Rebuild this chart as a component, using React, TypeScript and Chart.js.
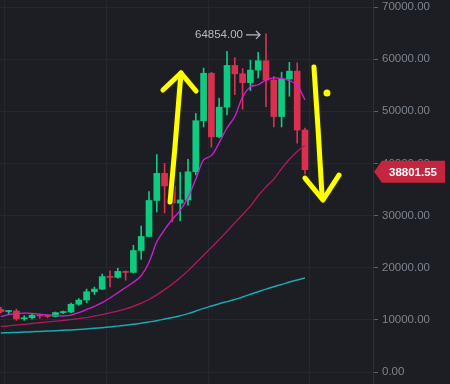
import React, { useEffect, useRef } from "react";
import { Chart, registerables } from "chart.js";

Chart.register(...registerables);

const weeks = [
  "2020-08-17", "2020-08-24", "2020-08-31", "2020-09-07", "2020-09-14", "2020-09-21", "2020-09-28",
  "2020-10-05", "2020-10-12", "2020-10-19", "2020-10-26", "2020-11-02", "2020-11-09", "2020-11-16",
  "2020-11-23", "2020-11-30", "2020-12-07", "2020-12-14", "2020-12-21", "2020-12-28", "2021-01-04",
  "2021-01-11", "2021-01-18", "2021-01-25", "2021-02-01", "2021-02-08", "2021-02-15", "2021-02-22",
  "2021-03-01", "2021-03-08", "2021-03-15", "2021-03-22", "2021-03-29", "2021-04-05", "2021-04-12",
  "2021-04-19", "2021-04-26", "2021-05-03", "2021-05-10", "2021-05-17",
];

const opens = [
  12000, 11600, 11700, 10200, 10400, 10900, 10750, 10650, 11400, 11500,
  13000, 13800, 15400, 15900, 18300, 18150, 19300, 19100, 23300, 26000,
  32900, 38100, 35700, 32400, 33000, 38400, 48200, 57300, 45100, 50800,
  58800, 57200, 55500, 57900, 59700, 56000, 49000, 56200, 57700, 46400,
];
const highs = [
  12400, 11800, 12050, 10800, 11100, 11000, 10950, 11500, 11700, 13200,
  14100, 15900, 16300, 18800, 19400, 19900, 19400, 24300, 28000, 34600,
  41700, 40000, 37800, 38300, 40800, 49600, 58300, 57500, 52500, 61500,
  60300, 58200, 59800, 61300, 64854, 56700, 57500, 59400, 59300, 46800,
];
const lows = [
  11400, 11200, 9900, 9900, 10200, 10300, 10400, 10550, 11200, 11400,
  12800, 13300, 14900, 15800, 16300, 18000, 17600, 19000, 21600, 25900,
  30700, 30500, 28800, 29000, 32000, 37800, 47000, 43100, 44900, 49300,
  53200, 50400, 54000, 56400, 50900, 47000, 47000, 52900, 43900, 37000,
];
const closes = [
  11600, 11700, 10200, 10400, 10900, 10750, 10650, 11400, 11500, 13000,
  13800, 15400, 15900, 18300, 18150, 19300, 19100, 23300, 26000, 32900,
  38100, 35700, 32400, 33000, 38400, 48200, 57300, 45100, 50800, 58800,
  57200, 55500, 57900, 59700, 56000, 49000, 56200, 57700, 46400, 38801.55,
];

const ma7 = [
  10600, 11000, 11200, 11300, 11250, 11100, 10950, 10800, 10750, 10900,
  11400, 12000, 12600, 13300, 14200, 15200, 16200, 17200, 18500, 21000,
  25000, 27300, 29300, 31000, 33500, 37000, 40700, 41500, 44000, 46800,
  49000, 52800, 54700, 55100, 56000, 56400, 56300, 55900, 55000, 52200,
];
const ma25 = [
  8700, 8850, 9000, 9150, 9300, 9450, 9600, 9750, 9900, 10050,
  10250, 10450, 10700, 11000, 11350, 11700, 12100, 12600, 13200, 13900,
  14800, 15800, 16900, 18100, 19400, 20900, 22400, 23900, 25400, 27000,
  28600, 30200, 31800, 33800, 35500, 37000, 39000, 40800, 42300, 43500,
];
const ma99 = [
  7480, 7540, 7600, 7660, 7720, 7790, 7850, 7920, 8000, 8080,
  8170, 8270, 8380, 8500, 8640, 8800, 8960, 9150, 9360, 9600,
  9850, 10150, 10450, 10800, 11200, 11700, 12200, 12650, 13100, 13500,
  13900, 14400, 14900, 15400, 15900, 16350, 16800, 17250, 17650, 18030,
];

const yTicks = [0, 10000, 20000, 30000, 40000, 50000, 60000, 70000];
const peakIndex = 34;
const peakHigh = 64854.0;
const lastPrice = 38801.55;

const BG = "#1c1e23";
const GRID = "#25282d";
const GREEN = "#0ecb81";
const RED = "#d9304f";
const FONT = "'Liberation Sans', Arial, sans-serif";

export default function App() {
  const ref = useRef<HTMLCanvasElement>(null);

  useEffect(() => {
    document.body.style.margin = "0";
    document.body.style.background = BG;
    const colors = opens.map((o, i) => (closes[i] >= o ? GREEN : RED));
    const pt = (arr: number[]) => arr.map((v, i) => ({ x: i, y: v }));

    const annotations = {
      id: "annotations",
      afterDraw(chart: any) {
        const ctx = chart.ctx;
        const xs = chart.scales.x;
        const ys = chart.scales.y;
        const P = (p: number[]) => [xs.getPixelForValue(p[0]), ys.getPixelForValue(p[1])];
        const area = chart.chartArea;

        // peak label
        const px = xs.getPixelForValue(peakIndex);
        const py = ys.getPixelForValue(peakHigh);
        ctx.save();
        ctx.fillStyle = "#b4b9c1";
        ctx.strokeStyle = "#b4b9c1";
        ctx.font = `11.5px ${FONT}`;
        ctx.textAlign = "right";
        ctx.textBaseline = "middle";
        ctx.fillText(peakHigh.toFixed(2), px - 23, py + 1);
        ctx.lineWidth = 1.3;
        ctx.beginPath();
        ctx.moveTo(px - 20, py + 1);
        ctx.lineTo(px - 6, py + 1);
        ctx.moveTo(px - 10, py - 3);
        ctx.lineTo(px - 6, py + 1);
        ctx.lineTo(px - 10, py + 5);
        ctx.stroke();
        ctx.restore();

        // hand-drawn arrows
        const strokes = [
          [[21.7, 32600], [22.33, 43150], [23.1, 57350]],
          [[20.79, 54090], [23.1, 57350], [25.03, 53900]],
          [[40.15, 58500], [40.67, 46800], [41.18, 33950]],
          [[39.0, 37200], [41.3, 32990], [43.36, 37780]],
        ];
        ctx.save();
        ctx.lineCap = "round";
        ctx.lineJoin = "round";
        for (const pass of [
          { c: "#2a2a10", w: 7 },
          { c: "#ffff00", w: 5 },
        ]) {
          ctx.strokeStyle = pass.c;
          ctx.lineWidth = pass.w;
          for (const s of strokes) {
            ctx.beginPath();
            s.forEach((p, k) => {
              const [x, y] = P(p);
              if (k === 0) ctx.moveTo(x, y);
              else ctx.lineTo(x, y);
            });
            ctx.stroke();
          }
        }
        const [dx, dy] = P([41.82, 53500]);
        ctx.fillStyle = "#ffff00";
        ctx.beginPath();
        ctx.arc(dx, dy, 3.5, 0, Math.PI * 2);
        ctx.fill();
        ctx.restore();

        // last price tag
        const ly = ys.getPixelForValue(lastPrice) + 2;
        const left = area.right;
        ctx.save();
        ctx.fillStyle = "#c4263f";
        ctx.beginPath();
        ctx.moveTo(left + 1, ly);
        ctx.lineTo(left + 9, ly - 11);
        ctx.lineTo(left + 72, ly - 11);
        ctx.lineTo(left + 72, ly + 11);
        ctx.lineTo(left + 9, ly + 11);
        ctx.closePath();
        ctx.fill();
        ctx.fillStyle = "#ffffff";
        ctx.font = `bold 11.5px ${FONT}`;
        ctx.textAlign = "center";
        ctx.textBaseline = "middle";
        ctx.fillText(lastPrice.toFixed(2), left + 40, ly + 1);
        ctx.restore();
      },
    };

    const chart = new Chart(ref.current as HTMLCanvasElement, {
      type: "bar",
      data: {
        labels: weeks,
        datasets: [
          {
            type: "line",
            label: "MA7",
            data: pt(ma7),
            borderColor: "#d41ed6",
            borderWidth: 1.3,
            pointRadius: 0,
            tension: 0.35,
            order: 0,
          } as any,
          {
            type: "line",
            label: "MA25",
            data: pt(ma25),
            borderColor: "#b5175f",
            borderWidth: 1.3,
            pointRadius: 0,
            tension: 0.35,
            order: 0,
          } as any,
          {
            type: "line",
            label: "MA99",
            data: pt(ma99),
            borderColor: "#1ba8b0",
            borderWidth: 1.5,
            pointRadius: 0,
            tension: 0.35,
            order: 0,
          } as any,
          {
            type: "bar",
            label: "wick",
            data: lows.map((l, i) => ({ x: i, y: [l, highs[i]] })),
            backgroundColor: colors,
            barThickness: 1,
            grouped: false,
            order: 2,
          } as any,
          {
            type: "bar",
            label: "body",
            data: opens.map((o, i) => ({ x: i, y: [o, closes[i]] })),
            backgroundColor: colors,
            barThickness: 6,
            minBarLength: 1,
            grouped: false,
            order: 1,
          } as any,
        ],
      },
      options: {
        animation: false,
        responsive: false,
        devicePixelRatio: 1,
        layout: { padding: 0 },
        plugins: { legend: { display: false }, tooltip: { enabled: false } },
        scales: {
          x: {
            type: "linear",
            offset: false,
            min: -0.103,
            max: 47.72,
            afterBuildTicks: (s: any) => {
              s.ticks = [6.95, 20.03, 33.2, 46.05].map((v) => ({ value: v }));
            },
            afterFit: (s: any) => {
              s.height = 0;
            },
            ticks: { display: false },
            grid: { color: GRID, drawTicks: false },
            border: { display: false },
          },
          y: {
            type: "linear",
            position: "right",
            min: -2300,
            max: 71350,
            afterBuildTicks: (s: any) => {
              s.ticks = yTicks.map((v) => ({ value: v }));
            },
            afterFit: (s: any) => {
              s.width = 77;
              s.paddingTop = 0;
              s.paddingBottom = 0;
            },
            ticks: {
              color: "#7d838d",
              font: { family: FONT, size: 11.5 },
              padding: 4,
              callback: (v: any) => Number(v).toFixed(2),
            },
            grid: { color: GRID, tickLength: 5, tickColor: "#5b616b" },
            border: { display: true, color: "#2e3137" },
          },
        },
      },
      plugins: [annotations],
    } as any);

    return () => chart.destroy();
  }, []);

  return (
    <div style={{ width: 450, height: 384, background: BG }}>
      <canvas ref={ref} width={450} height={384} style={{ display: "block" }} />
    </div>
  );
}
